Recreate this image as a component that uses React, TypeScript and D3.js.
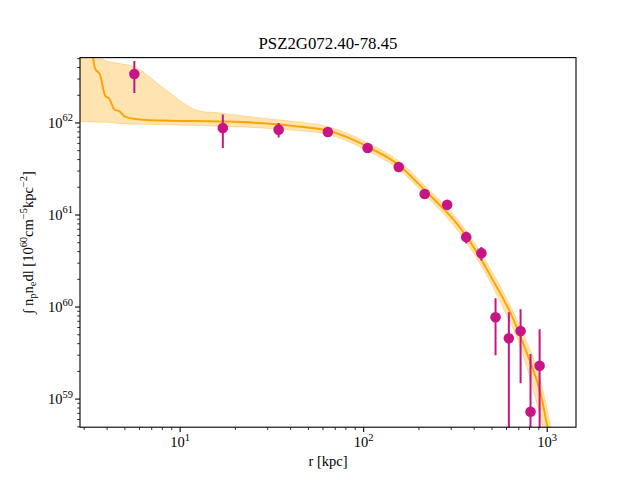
import * as d3 from 'd3';

// model fit line, r in kpc
const lineR = [3.31, 3.44, 3.66, 3.90, 4.12, 4.38, 4.67, 4.97, 5.56, 6.58, 8.82, 16.5, 31.0, 45.1, 64.2, 82.5, 104.8, 154.6, 217, 262, 316, 368, 444, 523, 557, 631, 716, 812, 920, 1005, 1044];
const lineVal = [6.28e62, 3.90e62, 3.36e62, 1.98e62, 1.82e62, 1.40e62, 1.34e62, 1.18e62, 1.11e62, 1.08e62, 1.06e62, 1.04e62, 9.83e61, 9.11e61, 8.24e61, 6.92e61, 5.52e61, 3.52e61, 1.83e61, 1.26e61, 8.44e60, 5.65e60, 3.10e60, 1.74e60, 1.39e60, 8.63e59, 4.73e59, 2.47e59, 1.16e59, 4.96e58, 3.58e58];

// uncertainty band
const bandR = [2.85, 3.66, 3.90, 4.71, 5.81, 6.58, 7.46, 8.82, 10.4, 12.9, 16.5, 23.1, 31.0, 45.1, 64.2, 104.8, 154.6, 217, 316, 444, 557, 716, 920, 1111];
const bandHigh = [8.06e62, 5.27e62, 4.77e62, 4.42e62, 3.96e62, 3.35e62, 2.72e62, 2.12e62, 1.65e62, 1.34e62, 1.285e62, 1.18e62, 1.105e62, 1.02e62, 9.11e61, 6.11e61, 3.89e61, 2.05e61, 9.56e60, 3.60e60, 1.65e60, 5.93e59, 1.57e59, 2.7e58];
const bandLow = [1.04e62, 1.02e62, 1.02e62, 9.83e61, 9.70e61, 9.66e61, 9.63e61, 9.58e61, 9.46e61, 9.35e61, 9.23e61, 9.0e61, 8.73e61, 8.24e61, 7.47e61, 4.99e61, 3.14e61, 1.64e61, 7.26e60, 2.66e60, 1.12e60, 3.59e59, 6.21e58, 1.16e58];

// measured points
const pointR = [5.63, 17.08, 34.4, 63.8, 105.1, 155.2, 215, 285, 362, 438, 523, 618, 716, 811, 909];
const pointVal = [3.41e62, 8.83e61, 8.46e61, 7.98e61, 5.34e61, 3.32e61, 1.69e61, 1.29e61, 5.75e60, 3.85e60, 7.74e59, 4.57e59, 5.49e59, 7.28e58, 2.30e59];
const pointErr = [1.3e62, 3.5e61, 1.5e61, 6e60, 2.7e60, 2.6e60, 1.3e60, 1.0e60, 8.4e59, 6.5e59, 4.75e59, 4.2e59, 4.0e59, 2.36e59, 3.43e59];

const xMajor = [1, 2, 3];
const yMajor = [59, 60, 61, 62];

const W = 640;
const H = 480;
const margin = { top: 57.6, right: 64, bottom: 52.8, left: 80 };
const ORANGE = '#ffa500';
const MAGENTA = '#c71585';
const FONT = '"Liberation Serif", "DejaVu Serif", serif';

function Pow10({ exp, size }: { exp: string; size: number }) {
  return (
    <>
      10
      <tspan fontSize={size * 0.72} dy={-size * 0.45}>{exp}</tspan>
    </>
  );
}

export default function App() {
  const iw = W - margin.left - margin.right;
  const ih = H - margin.top - margin.bottom;

  const x = d3.scaleLog().domain([2.847, 1435]).range([0, iw]);
  const y = d3.scaleLog().domain([4.95e58, 5.13e62]).range([ih, 0]);

  const lineGen = d3.line<number>()
    .x((_, i) => x(lineR[i]))
    .y(d => y(d))
    .curve(d3.curveMonotoneX);

  const areaGen = d3.area<number>()
    .x((_, i) => x(bandR[i]))
    .y0((_, i) => y(bandLow[i]))
    .y1(d => y(d))
    .curve(d3.curveMonotoneX);

  const [x0, x1] = x.domain();
  const [y0, y1] = y.domain();
  const xMinor: number[] = [];
  for (let e = 0; e <= 3; e++) for (let k = 2; k <= 9; k++) {
    const v = k * Math.pow(10, e);
    if (v >= x0 && v <= x1) xMinor.push(v);
  }
  const yMinor: number[] = [];
  for (let e = 58; e <= 62; e++) for (let k = 2; k <= 9; k++) {
    const v = k * Math.pow(10, e);
    if (v >= y0 && v <= y1) yMinor.push(v);
  }

  const tickFs = 14.5;
  const sub = tickFs * 0.72;

  return (
    <svg width={W} height={H} style={{ position: 'absolute', left: 0, top: 0, background: '#fff' }} fontFamily={FONT}>
      <defs>
        <clipPath id="plotClip">
          <rect x={0} y={0} width={iw} height={ih} />
        </clipPath>
      </defs>
      <text x={margin.left + iw / 2} y={49} textAnchor="middle" fontSize={16.8} fill="#000">
        PSZ2G072.40-78.45
      </text>
      <g transform={`translate(${margin.left},${margin.top})`}>
        <g clipPath="url(#plotClip)">
          {/* band */}
          <path d={areaGen(bandHigh) || ''} fill={ORANGE} fillOpacity={0.3} stroke={ORANGE} strokeOpacity={0.3} strokeWidth={1} />
          {/* fit */}
          <path d={lineGen(lineVal) || ''} fill="none" stroke={ORANGE} strokeWidth={2} />
          {/* data */}
          {pointR.map((r, i) => {
            const lo = Math.max(pointVal[i] - pointErr[i], y0 * 0.01);
            const hi = pointVal[i] + pointErr[i];
            return (
              <g key={i}>
                <line x1={x(r)} x2={x(r)} y1={y(lo)} y2={y(hi)} stroke={MAGENTA} strokeWidth={2} />
                <circle cx={x(r)} cy={y(pointVal[i])} r={5.3} fill={MAGENTA} />
              </g>
            );
          })}
        </g>

        {/* frame */}
        <rect x={0} y={0} width={iw} height={ih} fill="none" stroke="#000" strokeWidth={1.1} />

        {/* x axis */}
        <g transform={`translate(0,${ih})`}>
          {xMinor.map((v, i) => (
            <line key={i} x1={x(v)} x2={x(v)} y1={0} y2={2.8} stroke="#000" strokeWidth={0.8} />
          ))}
          {xMajor.map(e => (
            <g key={e}>
              <line x1={x(Math.pow(10, e))} x2={x(Math.pow(10, e))} y1={0} y2={4.9} stroke="#000" strokeWidth={1.1} />
              <text x={x(Math.pow(10, e))} y={20} textAnchor="middle" fontSize={tickFs} fill="#000">
                <Pow10 exp={String(e)} size={tickFs} />
              </text>
            </g>
          ))}
          <text x={iw / 2} y={39} textAnchor="middle" fontSize={tickFs} fill="#000">r [kpc]</text>
        </g>

        {/* y axis */}
        <g>
          {yMinor.map((v, i) => (
            <line key={i} x1={-2.8} x2={0} y1={y(v)} y2={y(v)} stroke="#000" strokeWidth={0.8} />
          ))}
          {yMajor.map(e => (
            <g key={e}>
              <line x1={-4.9} x2={0} y1={y(Math.pow(10, e))} y2={y(Math.pow(10, e))} stroke="#000" strokeWidth={1.1} />
              <text x={-7} y={y(Math.pow(10, e)) + 5} textAnchor="end" fontSize={tickFs} fill="#000">
                <Pow10 exp={String(e)} size={tickFs} />
              </text>
            </g>
          ))}
          <text transform={`translate(-47,${ih / 2}) rotate(-90)`} textAnchor="middle" fontSize={tickFs} fill="#000">
            ∫ n<tspan fontSize={sub} dy={3}>p</tspan>
            <tspan dy={-3}>n</tspan><tspan fontSize={sub} dy={3}>e</tspan>
            <tspan dy={-3}>dl [10</tspan><tspan fontSize={sub} dy={-6}>60</tspan>
            <tspan dy={6}>cm</tspan><tspan fontSize={sub} dy={-6}>−5</tspan>
            <tspan dy={6}>kpc</tspan><tspan fontSize={sub} dy={-6}>−2</tspan>
            <tspan dy={6}>]</tspan>
          </text>
        </g>
      </g>
    </svg>
  );
}
